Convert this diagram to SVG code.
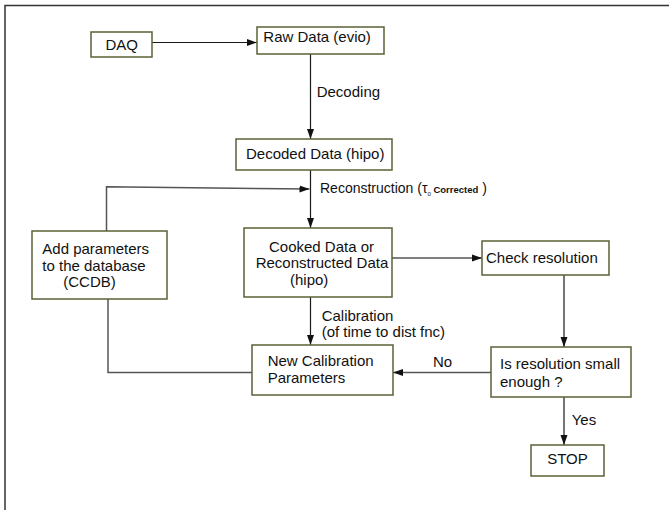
<svg xmlns="http://www.w3.org/2000/svg" width="669" height="510" viewBox="0 0 669 510">
<style>
text{font-family:"Liberation Sans",Arial,sans-serif;font-size:15px;fill:#111}
.box{fill:#fff;stroke:#5b6137;stroke-width:1.5}
.c{fill:none;stroke:#1a1a1a;stroke-width:1.2}
.g{fill:none;stroke:#555;stroke-width:1.5}
</style>
<defs>
<marker id="ah" markerUnits="userSpaceOnUse" markerWidth="10" markerHeight="8" refX="10" refY="4" orient="auto">
<path d="M0,0.5 L10,4 L0,7.5 z" fill="#111"/>
</marker>
</defs>
<rect width="669" height="510" fill="#fff"/>
<path d="M5,510 V5.5 H669" fill="none" stroke="#333" stroke-width="1.5"/>

<g id="connectors">
<path class="c" d="M152,42.5 H257" marker-end="url(#ah)"/>
<path class="c" d="M310.5,54 V139" marker-end="url(#ah)"/>
<path class="c" d="M310.5,170 V228" marker-end="url(#ah)"/>
<path class="g" d="M106.5,231 V186.8 L309.5,189" marker-end="url(#ah)"/>
<path class="g" d="M392,258 H482" marker-end="url(#ah)"/>
<path class="c" d="M564,275 V347" marker-end="url(#ah)"/>
<path class="c" d="M310.5,297 V345" marker-end="url(#ah)"/>
<path class="g" d="M491,372.5 H393" marker-end="url(#ah)"/>
<path class="c" d="M564,397 V445" marker-end="url(#ah)"/>
<path class="g" d="M252,372.5 H108 V299"/>
<text x="316.7" y="97">Decoding</text>
<text x="320" y="192.7" style="font-size:14px">Reconstruction (τ<tspan style="font-size:6px" dy="3">0</tspan><tspan dy="-3" style="font-size:9.5px;font-weight:bold"> Corrected</tspan> )</text>
<text x="321.7" y="320.7">Calibration</text>
<text x="321.7" y="336.7">(of time to dist fnc)</text>
<text x="433" y="367.3">No</text>
<text x="571.7" y="425">Yes</text>
</g>

<g id="daq">
<rect class="box" x="91" y="32" width="61" height="25"/>
<text x="121.7" y="50" text-anchor="middle">DAQ</text>
</g>
<g id="raw">
<rect class="box" x="257" y="27" width="127" height="27"/>
<text x="263.3" y="41.5">Raw Data (evio)</text>
</g>
<g id="decoded">
<rect class="box" x="236" y="139" width="156" height="31"/>
<text x="246" y="159.3">Decoded Data (hipo)</text>
</g>
<g id="addparams">
<rect class="box" x="32" y="231" width="135" height="68"/>
<text x="42.3" y="254.3">Add parameters</text>
<text x="42.3" y="270.7">to the database</text>
<text x="63.3" y="287">(CCDB)</text>
</g>
<g id="cooked">
<rect class="box" x="244" y="228" width="148" height="69"/>
<text x="269" y="251.7">Cooked Data or</text>
<text x="255.7" y="268.3">Reconstructed Data</text>
<text x="290" y="285">(hipo)</text>
</g>
<g id="check">
<rect class="box" x="482" y="241" width="127" height="34"/>
<text x="486" y="262.7">Check resolution</text>
</g>
<g id="newcal">
<rect class="box" x="252" y="345" width="141" height="50"/>
<text x="267.7" y="366">New Calibration</text>
<text x="267.7" y="383.3">Parameters</text>
</g>
<g id="decision">
<rect class="box" x="491" y="347" width="140" height="50"/>
<text x="500" y="369.3">Is resolution small</text>
<text x="500" y="386.7">enough ?</text>
</g>
<g id="stop">
<rect class="box" x="531" y="445" width="73" height="31"/>
<text x="567.5" y="464.3" text-anchor="middle">STOP</text>
</g>
</svg>
